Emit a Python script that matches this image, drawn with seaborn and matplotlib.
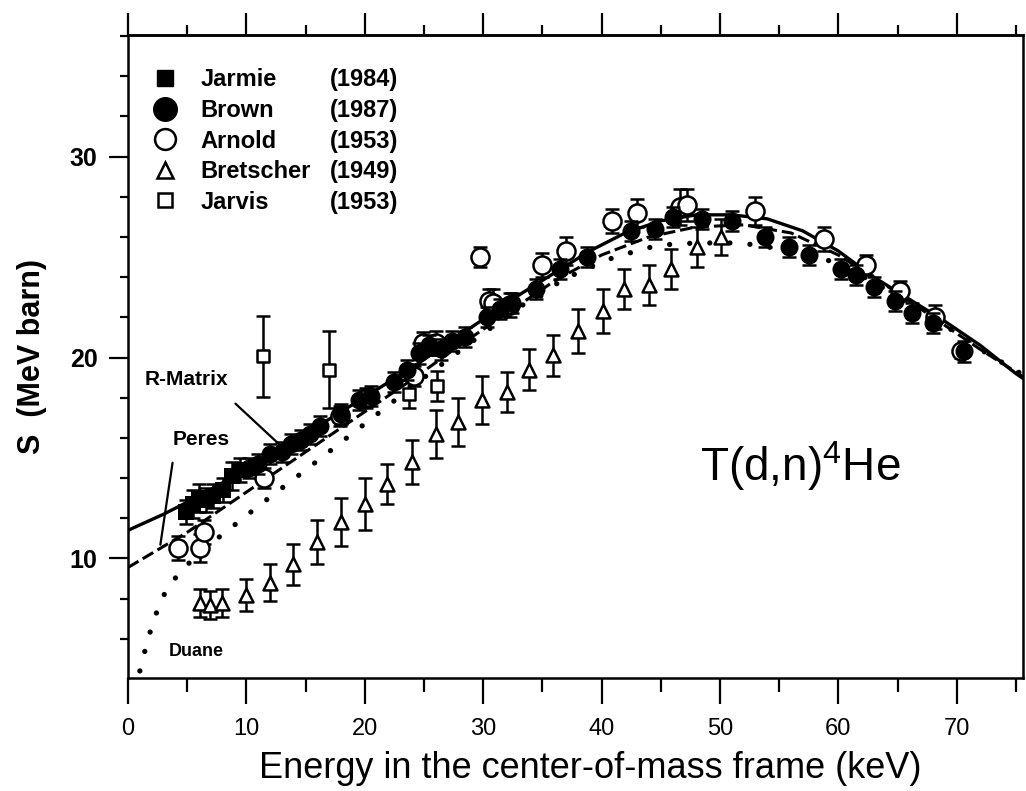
import matplotlib
matplotlib.use("Agg")
import matplotlib.pyplot as plt
import pandas as pd
import seaborn as sns
from matplotlib.lines import Line2D
from matplotlib.ticker import MultipleLocator

# ---- values (E in keV, S in MeV barn) ----
RMATRIX_E = [0, 3, 6, 9, 12, 15, 18, 21, 24, 27, 30, 33, 36, 39, 42, 45, 48, 51, 54, 57, 60, 63, 66, 69, 72, 75, 76]
RMATRIX_S = [11.4, 12.2, 13.1, 14.1, 15.1, 16.2, 17.3, 18.4, 19.5, 20.7, 21.9, 23.1, 24.2, 25.3, 26.2, 26.8, 27.1,
             27.1, 26.9, 26.3, 25.3, 24.0, 22.9, 21.8, 20.6, 19.2, 18.8]

PERES_E = [0, 1, 2, 3, 5, 8, 12, 16, 20, 24, 28, 32, 36, 40, 44, 48, 52, 56, 60, 64, 68, 72, 76]
PERES_S = [9.55, 9.9, 10.25, 10.6, 11.3, 12.5, 14.1, 15.7, 17.3, 18.9, 20.6, 22.2, 23.8, 25.1, 26.0, 26.5, 26.6,
           26.2, 25.1, 23.6, 22.0, 20.4, 18.9]

DUANE_E = [1.0, 1.6, 2.0, 2.7, 3.5, 4.5, 6, 8, 11, 15, 20, 25, 30, 33.3, 35, 36.7, 38.4, 40.1, 41.8, 43.5, 45,
           48, 51.4, 53.1, 56, 60, 64, 68, 72, 76]
DUANE_S = [4.4, 5.8, 6.6, 7.8, 8.7, 9.35, 10.3, 11.2, 12.6, 14.4, 16.7, 19.0, 21.2, 22.6, 23.1, 23.9, 24.3, 24.8,
           25.1, 25.4, 25.6, 25.7, 25.7, 25.6, 25.3, 24.7, 23.4, 22.0, 20.4, 19.0]

JARMIE_E = [4.9, 5.5, 6.0, 6.6, 7.2, 8.0, 8.8, 9.5]
JARMIE_S = [12.3, 12.7, 13.0, 12.9, 13.1, 13.4, 14.1, 14.4]
JARMIE_ERR = [0.6, 0.7, 0.7, 0.6, 0.6, 0.6, 0.7, 0.6]

BROWN_E = [10.2, 11.0, 12.0, 13.0, 13.8, 14.6, 15.4, 16.2, 18.0, 19.5, 20.5, 22.5, 23.6, 24.6, 25.4, 26.4, 27.4,
           28.5, 30.3, 31.4, 32.4, 34.5, 36.5, 38.8, 42.5, 44.5, 46.0, 48.5, 51.0, 53.8, 55.8, 57.5, 60.2, 61.5,
           63.0, 64.8, 66.2, 68.0, 70.6]
BROWN_S = [14.5, 14.7, 15.2, 15.3, 15.7, 15.9, 16.2, 16.6, 17.2, 17.9, 18.1, 18.8, 19.4, 20.2, 20.6, 20.4, 20.8,
           21.0, 22.0, 22.4, 22.7, 23.4, 24.4, 25.0, 26.3, 26.4, 27.0, 26.9, 26.8, 26.0, 25.5, 25.1, 24.4, 24.1,
           23.5, 22.8, 22.2, 21.7, 20.3]
BROWN_ERR = [0.5] * len(BROWN_E)

ARNOLD_E = [4.2, 6.1, 6.4, 11.5, 17.9, 20.1, 24.2, 24.9, 26.0, 29.7, 30.5, 30.8, 32.3, 35.0, 37.0, 40.9, 43.0,
            46.6, 47.2, 53.0, 58.8, 62.3, 65.2, 68.2, 70.4]
ARNOLD_S = [10.5, 10.5, 11.3, 14.0, 17.1, 18.0, 19.1, 20.7, 20.7, 25.0, 22.8, 22.7, 22.6, 24.6, 25.3, 26.8, 27.2,
            27.5, 27.6, 27.3, 25.9, 24.6, 23.3, 22.0, 20.3]
ARNOLD_ERR = [0.6, 0.7, 0.6, 0.5, 0.5, 0.5, 0.5, 0.55, 0.6, 0.5, 0.6, 0.7, 0.6, 0.6, 0.7, 0.6, 0.7, 0.9, 0.8,
              0.7, 0.6, 0.5, 0.5, 0.6, 0.3]

BRETSCHER_E = [6.1, 6.9, 7.9, 10.0, 12.0, 13.9, 16.0, 18.0, 20.0, 21.9, 24.0, 26.0, 27.9, 29.9, 32.0, 33.9, 35.9,
               38.0, 40.1, 41.9, 44.0, 45.9, 48.1, 50.1]
BRETSCHER_S = [7.8, 7.7, 7.8, 8.2, 8.8, 9.7, 10.8, 11.8, 12.7, 13.7, 14.8, 16.2, 16.8, 17.9, 18.3, 19.4, 20.1,
               21.3, 22.3, 23.4, 23.6, 24.4, 25.5, 26.0]
BRETSCHER_ERR = [0.7, 0.7, 0.7, 0.8, 0.9, 1.0, 1.1, 1.2, 1.3, 1.0, 1.1, 1.2, 1.2, 1.2, 1.0, 1.0, 1.0, 1.1, 1.1,
                 1.0, 1.0, 1.0, 1.0, 0.9]

JARVIS_E = [11.4, 17.0, 23.7, 26.1]
JARVIS_S = [20.05, 19.4, 18.2, 18.6]
JARVIS_ERR = [2.0, 1.9, 0.7, 0.75]

LEGEND_NAMES = ["Jarmie", "Brown", "Arnold", "Bretscher", "Jarvis"]
LEGEND_YEARS = ["(1984)", "(1987)", "(1953)", "(1949)", "(1953)"]

INK = "black"

sns.set_theme(style="ticks")
plt.rcParams["font.family"] = ["Liberation Sans", "DejaVu Sans"]
plt.rcParams.update({"text.color": INK, "axes.labelcolor": INK, "xtick.color": INK, "ytick.color": INK})

fig = plt.figure(figsize=(10.26, 7.91), dpi=100)
fig.patch.set_facecolor("white")
ax = fig.add_axes([128 / 1026, 1 - 678 / 791, (1023 - 128) / 1026, (678 - 35) / 791])
ax.set_facecolor("white")

# ---- theory curves ----
sns.lineplot(x=RMATRIX_E, y=RMATRIX_S, ax=ax, color=INK, lw=2.4, sort=False)
sns.lineplot(x=PERES_E, y=PERES_S, ax=ax, color=INK, lw=2.2, sort=False, linestyle=(0, (4, 1.6)))
sns.lineplot(x=DUANE_E, y=DUANE_S, ax=ax, color=INK, lw=3.8, sort=False, linestyle=(0, (0.01, 3.8)))
ax.lines[-1].set_dash_capstyle("round")


def data_set(e, s, err, marker, size, filled, z):
    ax.errorbar(e, s, yerr=err, fmt="none", ecolor=INK, elinewidth=1.8, capsize=5, capthick=1.8, zorder=z)
    df = pd.DataFrame({"E": e, "S": s})
    sns.scatterplot(data=df, x="E", y="S", ax=ax, marker=marker, s=size ** 2,
                    color=INK if filled else "white", edgecolor=INK,
                    linewidth=0 if filled else 1.8, zorder=z + 0.1)


data_set(BRETSCHER_E, BRETSCHER_S, BRETSCHER_ERR, "^", 10, False, 3)
data_set(JARVIS_E, JARVIS_S, JARVIS_ERR, "s", 9, False, 3)
data_set(ARNOLD_E, ARNOLD_S, ARNOLD_ERR, "o", 13, False, 4)
data_set(BROWN_E, BROWN_S, BROWN_ERR, "o", 13, True, 5)
data_set(JARMIE_E, JARMIE_S, JARMIE_ERR, "s", 11, True, 5)

# ---- axes ----
ax.set_xlim(0, 75.6)
ax.set_ylim(4.05, 36.05)
ax.xaxis.set_major_locator(MultipleLocator(10))
ax.xaxis.set_minor_locator(MultipleLocator(5))
ax.yaxis.set_major_locator(MultipleLocator(10))
ax.yaxis.set_minor_locator(MultipleLocator(2))
for sp in ax.spines.values():
    sp.set_visible(True)
    sp.set_linewidth(1.8)
    sp.set_color(INK)

ax.tick_params(axis="x", which="major", direction="out", length=19, width=1.6, pad=10,
               labelsize=17, colors=INK)
ax.tick_params(axis="x", which="minor", direction="out", length=10, width=1.6, colors=INK)
ax.tick_params(axis="y", which="major", direction="out", length=14, width=1.6, pad=8,
               labelsize=18, colors=INK)
ax.tick_params(axis="y", which="minor", direction="out", length=6, width=1.6, colors=INK)
for t in ax.get_yticklabels():
    t.set_fontweight("bold")

top = ax.secondary_xaxis("top")
top.xaxis.set_major_locator(MultipleLocator(10))
top.xaxis.set_minor_locator(MultipleLocator(5))
top.tick_params(which="major", direction="out", length=16, width=1.6, labeltop=False, colors=INK)
top.tick_params(which="minor", direction="out", length=7, width=1.6, colors=INK)
top.spines["top"].set_linewidth(1.8)
top.spines["top"].set_color(INK)

ax.set_xlabel("Energy in the center-of-mass frame (keV)", fontsize=26)
ax.xaxis.set_label_coords(0.516, -0.113)
ax.set_ylabel("S  (MeV barn)", fontsize=22, fontweight="bold")
ax.yaxis.set_label_coords(-0.09, 0.5)

# ---- curve labels ----
ax.text(4.9, 18.9, "R-Matrix", fontsize=15, fontweight="bold", ha="center", va="center")
ax.annotate("", xy=(13.1, 15.5), xytext=(8.9, 17.8), arrowprops=dict(arrowstyle="-", lw=1.6, color=INK))
ax.text(6.2, 15.9, "Peres", fontsize=15, fontweight="bold", ha="center", va="center")
ax.annotate("", xy=(2.7, 10.55), xytext=(3.8, 14.9), arrowprops=dict(arrowstyle="-", lw=1.6, color=INK))
ax.text(5.8, 5.37, "Duane", fontsize=13, fontweight="bold", ha="center", va="center")
ax.text(48.3, 14.6, r"$\mathregular{T(d{,}n)^4He}$", fontsize=33, ha="left", va="center")

# ---- legend: symbol + author, then year column ----
handles = [
    Line2D([], [], ls="none", marker="s", ms=12, mfc=INK, mec=INK),
    Line2D([], [], ls="none", marker="o", ms=17, mfc=INK, mec=INK),
    Line2D([], [], ls="none", marker="o", ms=15, mfc="white", mec=INK, mew=1.8),
    Line2D([], [], ls="none", marker="^", ms=12, mfc="white", mec=INK, mew=1.8),
    Line2D([], [], ls="none", marker="s", ms=10, mfc="white", mec=INK, mew=1.8),
]
leg_kw = dict(loc="upper left", frameon=False, borderpad=0, borderaxespad=0, labelspacing=0.32,
              prop={"size": 17, "weight": "bold"})
leg1 = ax.legend(handles, LEGEND_NAMES, bbox_to_anchor=(0.0257, 0.948), handlelength=1.2,
                 handletextpad=0.9, **leg_kw)
ax.add_artist(leg1)
blank = [Line2D([], [], ls="none") for _ in LEGEND_YEARS]
ax.legend(blank, LEGEND_YEARS, bbox_to_anchor=(0.2257, 0.948), handlelength=0, handletextpad=0, **leg_kw)

fig.savefig("out.png", dpi=100, facecolor="white")
